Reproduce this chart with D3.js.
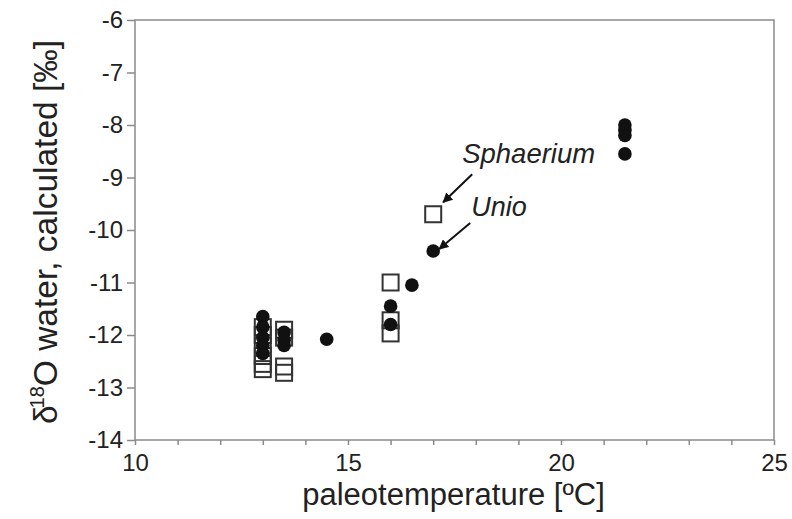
<!DOCTYPE html>
<html><head><meta charset="utf-8">
<script src="https://cdn.jsdelivr.net/npm/d3@7"></script>
<style>body{margin:0;background:#fff;} text{font-family:"Liberation Sans",Arial,sans-serif;fill:#222;}</style>
</head><body>
<svg id="c" width="792" height="519"></svg>
<script>
// Unio (filled circles)
const unioX = [13,13,13,13,13, 13.5,13.5,13.5, 14.5, 16,16, 16.5, 17, 21.5,21.5,21.5,21.5];
const unioY = [-11.65,-11.85,-12.05,-12.2,-12.35, -11.95,-12.1,-12.2, -12.08, -11.45,-11.8, -11.05, -10.4, -8.0,-8.1,-8.2,-8.55];
// Sphaerium (open squares)
const sphX = [13,13,13,13,13,13, 13.5,13.5,13.5,13.5, 16,16,16, 17];
const sphY = [-11.85,-12.0,-12.2,-12.4,-12.55,-12.65, -11.9,-12.05,-12.6,-12.72, -11.0,-11.72,-11.97, -9.7];
const xTicks = [10,15,20,25];
const xMinor = d3.range(10,26,1);
const yTicks = [-6,-7,-8,-9,-10,-11,-12,-13,-14];

const L=135,R=774,T=20,B=440;
const svg=d3.select("#c");
const x=d3.scaleLinear().domain([10,25]).range([L,R]);
const y=d3.scaleLinear().domain([-14,-6]).range([B,T]);
const axisCol="#8a8a8a";

// frame
svg.append("rect").attr("x",L).attr("y",T).attr("width",R-L).attr("height",B-T)
  .attr("fill","none").attr("stroke",axisCol).attr("stroke-width",1.5);

// x axis
const gx=svg.append("g").attr("transform",`translate(0,${B})`)
  .call(d3.axisBottom(x).tickValues(xMinor).tickSize(5).tickFormat(""));
gx.select(".domain").remove();
gx.selectAll("line").attr("stroke",axisCol).attr("stroke-width",1.5);
const gx2=svg.append("g").attr("transform",`translate(0,${B})`)
  .call(d3.axisBottom(x).tickValues(xTicks).tickSize(0).tickPadding(14).tickFormat(d3.format("d")));
gx2.select(".domain").remove();
gx2.selectAll("text").attr("font-size",24).attr("fill","#222");

// y axis
const gy=svg.append("g").attr("transform",`translate(${L},0)`)
  .call(d3.axisLeft(y).tickValues(yTicks).tickSize(8).tickPadding(4).tickFormat(d=>String(d).replace("\u2212","-")));
gy.select(".domain").remove();
gy.selectAll("line").attr("stroke",axisCol).attr("stroke-width",1.5);
gy.selectAll("text").attr("font-size",24).attr("fill","#222");

// squares
const s=16;
svg.append("g").selectAll("rect").data(sphX.map((d,i)=>[d,sphY[i]])).join("rect")
  .attr("x",d=>x(d[0])-s/2).attr("y",d=>y(d[1])-s/2).attr("width",s).attr("height",s)
  .attr("fill","none").attr("stroke","#333").attr("stroke-width",2);
// circles
svg.append("g").selectAll("circle").data(unioX.map((d,i)=>[d,unioY[i]])).join("circle")
  .attr("cx",d=>x(d[0])).attr("cy",d=>y(d[1])).attr("r",6.8).attr("fill","#111");

// annotations
svg.append("defs").append("marker").attr("id","ah").attr("viewBox","0 0 10 10")
  .attr("refX",9).attr("refY",5).attr("markerWidth",5).attr("markerHeight",5).attr("orient","auto")
  .append("path").attr("d","M0,0 L10,5 L0,10 Z").attr("fill","#111");
svg.append("line").attr("x1",x(17)+39).attr("y1",y(-9.7)-40).attr("x2",x(17)+10).attr("y2",y(-9.7)-12)
  .attr("stroke","#111").attr("stroke-width",2).attr("marker-end","url(#ah)");
svg.append("line").attr("x1",x(17)+37).attr("y1",y(-10.4)-28).attr("x2",x(17)+6).attr("y2",y(-10.4)-2)
  .attr("stroke","#111").attr("stroke-width",2).attr("marker-end","url(#ah)");
svg.append("text").attr("x",x(17)+29).attr("y",y(-9.7)-51).attr("font-size",27.5).attr("font-style","italic").text("Sphaerium");
svg.append("text").attr("x",x(17)+38).attr("y",y(-10.4)-35).attr("font-size",27).attr("font-style","italic").text("Unio");

// titles
svg.append("text").attr("x",(L+R)/2-1).attr("y",505).attr("text-anchor","middle").attr("font-size",31)
  .text("paleotemperature [ºC]");
const yt=svg.append("text").attr("transform",`translate(57,${(T+B)/2+2}) rotate(-90)`).attr("text-anchor","middle").attr("font-size",33.5);
yt.append("tspan").text("δ");
yt.append("tspan").attr("font-size",20).attr("dy",-13).attr("dx",-3).text("18");
yt.append("tspan").attr("dy",13).text("O water, calculated [‰]");
</script>
</body></html>
